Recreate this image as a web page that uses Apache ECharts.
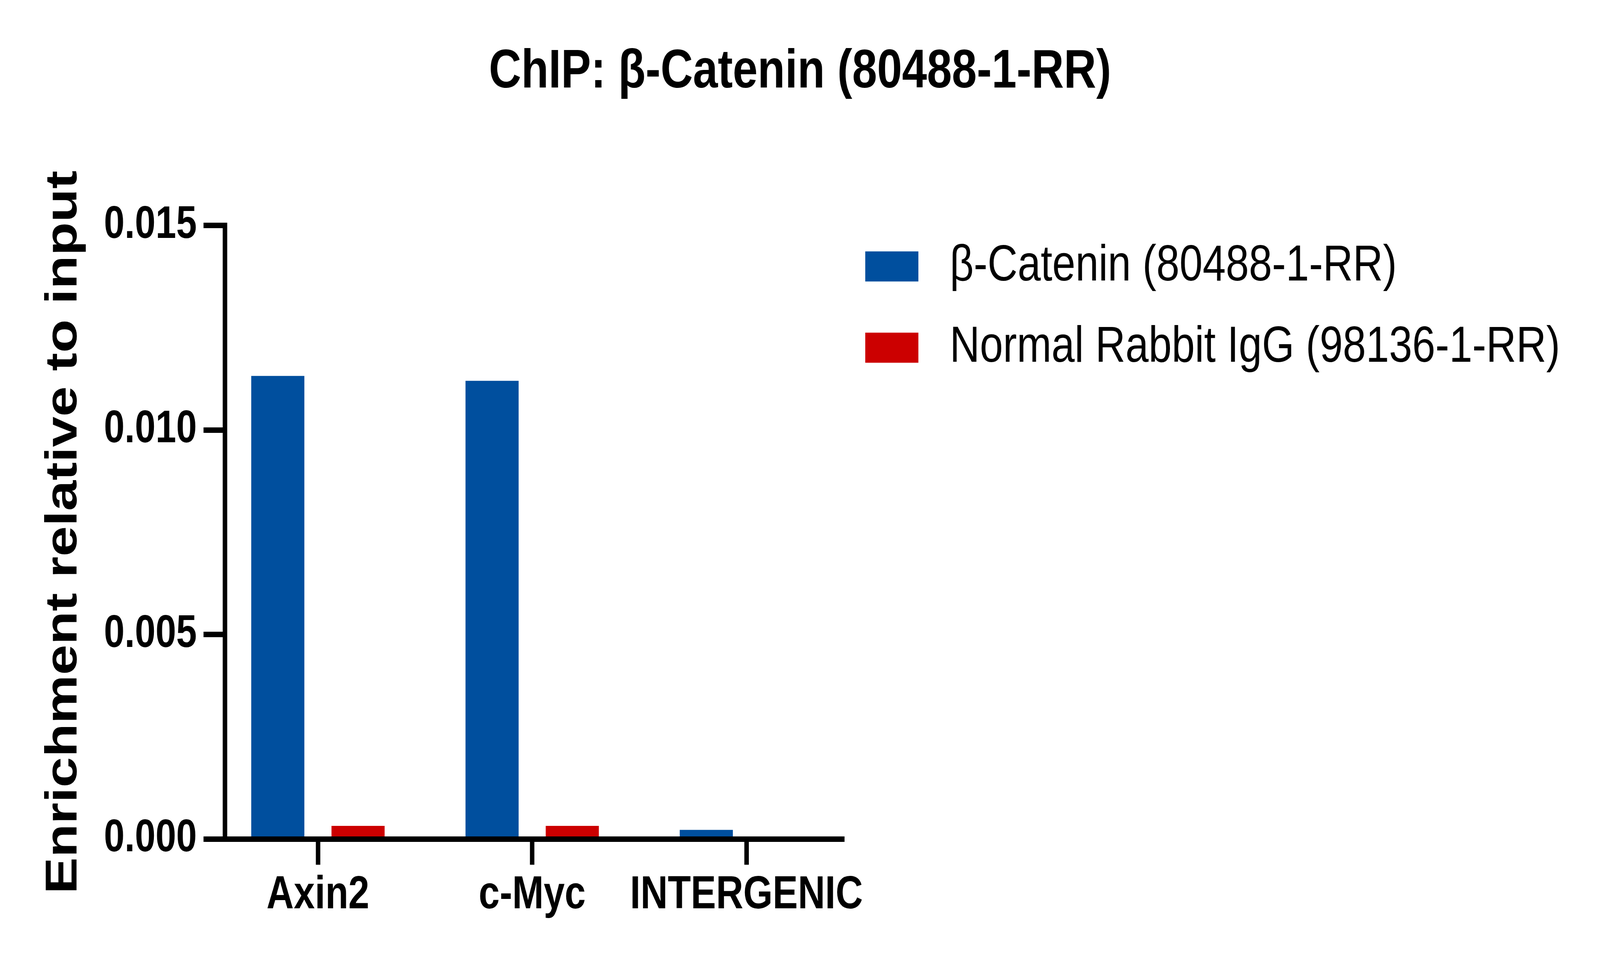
<!DOCTYPE html>
<html>
<head>
<meta charset="utf-8">
<script src="https://cdn.jsdelivr.net/npm/echarts@6/dist/echarts.min.js"></script>
<style>
html,body{margin:0;padding:0;background:#fff;overflow:hidden;width:100%;height:100%;}
#chart{width:5000px;height:2465px;transform-origin:0 0;}
</style>
</head>
<body>
<div id="chart"></div>
<script>
const titleText = 'ChIP: β-Catenin (80488-1-RR)';
const yAxisName = 'Enrichment relative to input';
const categories = ['Axin2', 'c-Myc', 'INTERGENIC'];
const seriesNames = ['β-Catenin (80488-1-RR)', 'Normal Rabbit IgG (98136-1-RR)'];
const betaCatenin = [0.01132, 0.01120, 0.000222];
const normalIgG = [0.00032, 0.00032, 0.00002];
const yMin = 0, yMax = 0.015, yStep = 0.005;
const colors = ['#004F9E', '#CC0000'];

const FONT = "'Liberation Sans', Arial, sans-serif";
const el = document.getElementById('chart');
// fit the 5000x2465 design onto whatever viewport the browser really has
const vw = window.innerWidth || document.documentElement.clientWidth || 5000;
const vh = window.innerHeight || document.documentElement.clientHeight || 2465;
el.style.transform = 'scale(' + (vw / 5000) + ',' + (vh / 2465) + ')';

const chart = echarts.init(el, null, {renderer: 'canvas'});

const gridTop = 577, gridBottomY = 2147.5;
const gridH = gridBottomY - gridTop;

const option = {
  backgroundColor: '#ffffff',
  animation: false,
  title: {
    text: titleText,
    left: 'center',
    top: 115,
    padding: 0,
    textStyle: {fontFamily: FONT, fontWeight: 'bold', fontSize: 140, color: '#000'}
  },
  legend: {
    orient: 'vertical',
    left: 2704,
    top: 617,
    padding: 0,
    itemWidth: 166,
    itemHeight: 77,
    itemGap: 78,
    icon: 'rect',
    data: seriesNames,
    textStyle: {fontFamily: FONT, fontSize: 130, color: '#000', padding: [0, 0, 0, 93]}
  },
  grid: [
    {left: 703, top: gridTop, width: 2632 - 703, height: gridH, containLabel: false, outerBoundsMode: 'none'},
    {left: 658.75, top: gridTop, width: 2008.5, height: gridH, containLabel: false, outerBoundsMode: 'none'}
  ],
  xAxis: [
    {
      gridIndex: 0, type: 'category', data: categories, z: 10,
      axisLine: {show: true, lineStyle: {color: '#000', width: 14, cap: 'square'}},
      axisTick: {show: false}, axisLabel: {show: false}, splitLine: {show: false}
    },
    {
      gridIndex: 1, type: 'category', data: categories, z: 10,
      axisLine: {show: false},
      axisTick: {show: true, interval: 0, alignWithLabel: true, length: 66, lineStyle: {color: '#000', width: 14}},
      axisLabel: {show: true, interval: 0, hideOverlap: false, margin: 86, fontFamily: FONT, fontWeight: 'bold', fontSize: 118, color: '#000'},
      splitLine: {show: false}
    }
  ],
  yAxis: [
    {
      gridIndex: 0, type: 'value', min: yMin, max: yMax, interval: yStep, z: 10,
      name: yAxisName, nameLocation: 'middle', nameRotate: 90, nameGap: 433,
      nameTextStyle: {fontFamily: FONT, fontWeight: 'bold', fontSize: 140, color: '#000'},
      axisLine: {show: true, lineStyle: {color: '#000', width: 14, cap: 'square'}},
      axisTick: {show: true, length: 67, lineStyle: {color: '#000', width: 14}},
      axisLabel: {show: true, margin: 88, fontFamily: FONT, fontWeight: 'bold', fontSize: 116, color: '#000',
        formatter: v => v.toFixed(3)},
      splitLine: {show: false}
    },
    {
      gridIndex: 1, type: 'value', min: yMin, max: yMax, interval: yStep, show: false
    }
  ],
  series: [
    {
      name: seriesNames[0], type: 'bar', xAxisIndex: 1, yAxisIndex: 1,
      data: betaCatenin, barWidth: 166, barGap: '51%',
      itemStyle: {color: colors[0]}
    },
    {
      name: seriesNames[1], type: 'bar', xAxisIndex: 1, yAxisIndex: 1,
      data: normalIgG, barWidth: 166, barGap: '51%',
      itemStyle: {color: colors[1]}
    }
  ]
};
chart.setOption(option);
</script>
</body>
</html>
